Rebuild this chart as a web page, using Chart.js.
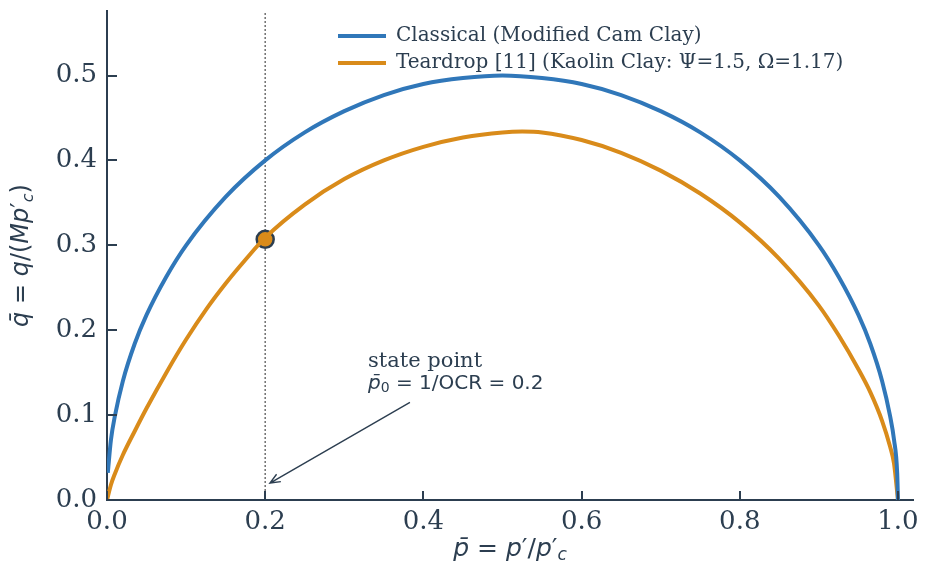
<!DOCTYPE html>
<html>
<head>
<meta charset="utf-8">
<script src="https://cdn.jsdelivr.net/npm/chart.js@4.4.1/dist/chart.umd.min.js"></script>
<style>
  html, body { margin: 0; padding: 0; background: #fff; }
</style>
</head>
<body>
<canvas id="chartCanvas" width="927" height="574"></canvas>
<script>
// values
const classicalP = [0.001, 0.005, 0.01, 0.02, 0.035, 0.05, 0.075, 0.1, 0.15, 0.2, 0.25, 0.3, 0.35, 0.4, 0.45, 0.5,
    0.55, 0.6, 0.65, 0.7, 0.75, 0.8, 0.85, 0.9, 0.925, 0.95, 0.965, 0.98, 0.99, 0.995, 0.999, 1.0];
const classicalQ = [0.032, 0.071, 0.099, 0.140, 0.184, 0.218, 0.263, 0.300, 0.357, 0.400, 0.433, 0.458, 0.477, 0.490, 0.497, 0.500,
    0.497, 0.490, 0.477, 0.458, 0.433, 0.400, 0.357, 0.300, 0.263, 0.218, 0.184, 0.140, 0.099, 0.071, 0.032, 0.0];

const teardropP = [0, 0.005, 0.01, 0.02, 0.035, 0.05, 0.075, 0.1, 0.125, 0.15, 0.175, 0.2, 0.25, 0.3, 0.35, 0.4, 0.45, 0.5, 0.525,
    0.55, 0.6, 0.65, 0.7, 0.75, 0.8, 0.85, 0.9, 0.925, 0.95, 0.965, 0.98, 0.99, 0.995, 1.0];
const teardropQ = [0, 0.018, 0.031, 0.053, 0.081, 0.108, 0.150, 0.189, 0.224, 0.255, 0.283, 0.309, 0.348, 0.378, 0.400, 0.416, 0.427, 0.433, 0.434,
    0.433, 0.424, 0.409, 0.388, 0.361, 0.327, 0.284, 0.229, 0.194, 0.154, 0.127, 0.093, 0.063, 0.043, 0];

const statePointP = [0.2];
const statePointQ = [0.307];

const xTicks = [0.0, 0.2, 0.4, 0.6, 0.8, 1.0];
const yTicks = [0.0, 0.1, 0.2, 0.3, 0.4, 0.5];

const seriesLabels = ["Classical (Modified Cam Clay)", "Teardrop [11] (Kaolin Clay: \u03A8=1.5, \u03A9=1.17)"];

// annotation: text anchor and arrow (tail -> head), in data units
const noteText = [0.33, 0.163];
const arrowTail = [0.383, 0.115];
const arrowHead = [0.206, 0.02];

const BLUE = "#3077b9";
const ORANGE = "#d98b1a";
const INK = "#2c3e50";

const toPoints = (xs, ys) => xs.map((x, i) => ({ x: x, y: ys[i] }));

// draws a run of mixed-font pieces, used for the math-style labels
const drawRuns = (ctx, runs, x, y, align) => {
    let total = 0;
    runs.forEach((r) => { ctx.font = r.f; total += ctx.measureText(r.t).width; });
    let cx = align === "center" ? x - total / 2 : x;
    ctx.textAlign = "left";
    runs.forEach((r) => {
        ctx.font = r.f;
        ctx.fillText(r.t, cx, y + (r.dy || 0));
        cx += ctx.measureText(r.t).width;
    });
};

const it = (s) => "italic " + s + "px 'DejaVu Sans'";
const up = (s) => s + "px 'DejaVu Sans'";

const noEdgePadding = (scale) => {
    scale.paddingTop = 0;
    scale.paddingBottom = 0;
    scale.paddingLeft = 0;
    scale.paddingRight = 0;
};

const extras = {
    id: "extras",
    afterLayout(chart) {
        // put the legend inside the plot, top right
        const lg = chart.legend;
        const pad = lg.options.labels.padding;
        lg.left = 338 - pad;
        lg.top = 26 - pad;
    },
    beforeDatasetsDraw(chart) {
        const { ctx, chartArea, scales } = chart;
        const x = scales.x.getPixelForValue(statePointP[0]);
        ctx.save();
        ctx.strokeStyle = "#707070";
        ctx.lineWidth = 1.5;
        ctx.setLineDash([2, 2]);
        ctx.beginPath();
        ctx.moveTo(x, chartArea.top + 2);
        ctx.lineTo(x, chartArea.bottom);
        ctx.stroke();
        ctx.restore();
    },
    afterDraw(chart) {
        const { ctx, chartArea, scales } = chart;
        const sx = scales.x, sy = scales.y;
        ctx.save();
        ctx.strokeStyle = INK;
        ctx.fillStyle = INK;

        // inward tick marks
        ctx.lineWidth = 2;
        xTicks.forEach((v) => {
            const px = Math.round(sx.getPixelForValue(v));
            ctx.beginPath();
            ctx.moveTo(px, chartArea.bottom);
            ctx.lineTo(px, chartArea.bottom - 9);
            ctx.stroke();
        });
        yTicks.forEach((v) => {
            const py = Math.round(sy.getPixelForValue(v));
            ctx.beginPath();
            ctx.moveTo(chartArea.left, py);
            ctx.lineTo(chartArea.left + 10, py);
            ctx.stroke();
        });

        // arrow
        const tx = sx.getPixelForValue(arrowTail[0]), ty = sy.getPixelForValue(arrowTail[1]);
        const hx = sx.getPixelForValue(arrowHead[0]), hy = sy.getPixelForValue(arrowHead[1]);
        const ang = Math.atan2(hy - ty, hx - tx);
        ctx.lineWidth = 1.4;
        ctx.beginPath();
        ctx.moveTo(tx, ty);
        ctx.lineTo(hx, hy);
        ctx.moveTo(hx - 11 * Math.cos(ang - 0.4), hy - 11 * Math.sin(ang - 0.4));
        ctx.lineTo(hx, hy);
        ctx.lineTo(hx - 11 * Math.cos(ang + 0.4), hy - 11 * Math.sin(ang + 0.4));
        ctx.stroke();

        // annotation text
        const nx = sx.getPixelForValue(noteText[0]);
        const ny = sy.getPixelForValue(noteText[1]);
        ctx.textBaseline = "middle";
        ctx.font = "21px 'DejaVu Serif'";
        ctx.textAlign = "left";
        ctx.fillText("state point", nx, ny);
        drawRuns(ctx, [
            { t: "p\u0304", f: it(20) },
            { t: "0", f: up(14), dy: 5 },
            { t: " = 1/OCR = 0.2", f: up(20) },
        ], nx, ny + 22, "left");

        // axis titles
        const cxm = (chartArea.left + chartArea.right) / 2;
        drawRuns(ctx, [
            { t: "p\u0304", f: it(25) },
            { t: " = ", f: up(25) },
            { t: "p", f: it(25) },
            { t: "\u2032/", f: up(25) },
            { t: "p", f: it(25) },
            { t: "\u2032", f: up(25) },
            { t: "c", f: it(17), dy: 7 },
        ], cxm, 549, "center");

        ctx.translate(22, (chartArea.top + chartArea.bottom) / 2);
        ctx.rotate(-Math.PI / 2);
        drawRuns(ctx, [
            { t: "q\u0304", f: it(24) },
            { t: " = ", f: up(24) },
            { t: "q", f: it(24) },
            { t: "/(", f: up(24) },
            { t: "Mp", f: it(24) },
            { t: "\u2032", f: up(24) },
            { t: "c", f: it(16), dy: 7 },
            { t: ")", f: up(24) },
        ], 0, 0, "center");
        ctx.restore();
    },
};

const ctx = document.getElementById("chartCanvas").getContext("2d");

new Chart(ctx, {
    type: "line",
    data: {
        datasets: [
            {
                label: seriesLabels[0],
                data: toPoints(classicalP, classicalQ),
                borderColor: BLUE,
                backgroundColor: BLUE,
                borderWidth: 4,
                pointRadius: 0,
                cubicInterpolationMode: "monotone",
            },
            {
                label: seriesLabels[1],
                data: toPoints(teardropP, teardropQ),
                borderColor: ORANGE,
                backgroundColor: ORANGE,
                borderWidth: 4,
                pointRadius: 0,
                cubicInterpolationMode: "monotone",
            },
            {
                label: "state point",
                data: toPoints(statePointP, statePointQ),
                showLine: false,
                pointRadius: 8.5,
                pointBackgroundColor: ORANGE,
                pointBorderColor: INK,
                pointBorderWidth: 2.5,
            },
        ],
    },
    options: {
        responsive: false,
        animation: false,
        devicePixelRatio: 1,
        layout: { padding: { top: 10, right: 14, left: 0, bottom: 0 } },
        plugins: {
            tooltip: { enabled: false },
            legend: {
                position: "chartArea",
                align: "start",
                labels: {
                    color: INK,
                    font: { family: "'DejaVu Serif'", size: 20 },
                    boxWidth: 48,
                    boxHeight: 4,
                    padding: 7,
                    filter: (item) => item.datasetIndex < 2,
                    generateLabels: (chart) =>
                        Chart.defaults.plugins.legend.labels.generateLabels(chart).map((l) => {
                            l.fillStyle = l.strokeStyle;
                            l.lineWidth = 0;
                            return l;
                        }),
                },
            },
        },
        scales: {
            x: {
                type: "linear",
                min: 0,
                max: 1.019,
                grid: { display: false, drawTicks: false },
                border: { display: true, color: INK, width: 2 },
                afterBuildTicks: (scale) => { scale.ticks = xTicks.map((v) => ({ value: v })); },
                afterFit: (scale) => { scale.height = 74; noEdgePadding(scale); },
                ticks: {
                    color: INK,
                    padding: 7,
                    maxRotation: 0,
                    font: { family: "'DejaVu Serif'", size: 26 },
                    callback: (v) => v.toFixed(1),
                },
            },
            y: {
                type: "linear",
                min: 0,
                max: 0.576,
                grid: { display: false, drawTicks: false },
                border: { display: true, color: INK, width: 2 },
                afterBuildTicks: (scale) => { scale.ticks = yTicks.map((v) => ({ value: v })); },
                afterFit: (scale) => { scale.width = 107; noEdgePadding(scale); },
                ticks: {
                    color: INK,
                    padding: 10,
                    font: { family: "'DejaVu Serif'", size: 26 },
                    callback: (v) => v.toFixed(1),
                },
            },
        },
    },
    plugins: [extras],
});
</script>
</body>
</html>
